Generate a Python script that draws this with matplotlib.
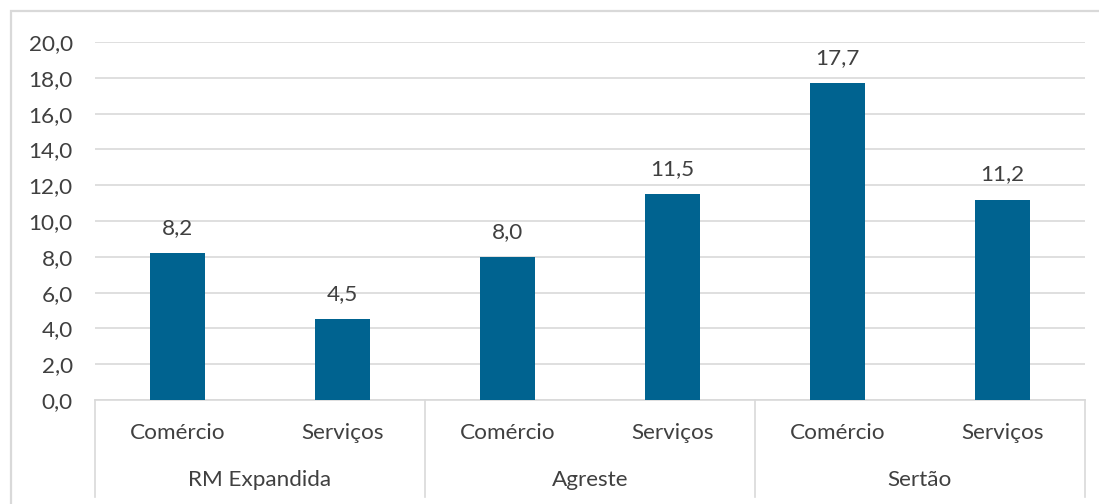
import matplotlib
matplotlib.use('Agg')
import matplotlib.pyplot as plt
from matplotlib.patches import Rectangle
import matplotlib.transforms as mtransforms

# Dados
grupos = ['RM Expandida', 'Agreste', 'Sertão']
setores = ['Comércio', 'Serviços']
valores = [8.2, 4.5, 8.0, 11.5, 17.7, 11.2]

cor_barra = '#006390'
cor_texto = '#404040'
cor_grade = '#d9d9d9'
fs = 16.2

plt.rcParams['font.family'] = ['Lato', 'DejaVu Sans']

fig = plt.figure(figsize=(10.99, 5.04), dpi=100)
ax = fig.add_axes([95 / 1099, 1 - 400 / 504, 990 / 1099, 358 / 504])

# moldura externa (estilo Excel)
fig.patches.append(Rectangle((11 / 1099, -0.1), 1.2, 1.1 - 11 / 504,
                             transform=fig.transFigure, fill=False,
                             edgecolor=cor_grade, linewidth=1.6))

n = len(valores)
x = list(range(n))
ax.bar(x, valores, width=0.33, color=cor_barra, zorder=3)
ax.set_xlim(-0.5, n - 0.5)
ax.set_ylim(0, 20)
ax.set_yticks(range(0, 21, 2))
ax.set_yticklabels([f'{v:.1f}'.replace('.', ',') for v in range(0, 21, 2)])
ax.yaxis.grid(True, color=cor_grade, linewidth=1.2, zorder=0)
ax.tick_params(axis='y', length=0, pad=16, labelsize=fs, labelcolor=cor_texto)

for s in ['top', 'right', 'left']:
    ax.spines[s].set_visible(False)
ax.spines['bottom'].set_color(cor_grade)
ax.spines['bottom'].set_linewidth(1.2)

# rótulos de valor
for xi, v in zip(x, valores):
    ax.annotate(f'{v:.1f}'.replace('.', ','), (xi, v), xytext=(0, 18),
                textcoords='offset points', ha='center', va='center',
                fontsize=fs, color=cor_texto)

# eixo de categorias em dois níveis
ax.set_xticks([])
trans = mtransforms.blended_transform_factory(ax.transData, ax.transAxes)
for i in range(n):
    ax.text(i, -33 / 358, setores[i % 2], transform=trans, ha='center',
            va='center', fontsize=fs, color=cor_texto)
for g, nome in enumerate(grupos):
    ax.text(2 * g + 0.5, -80 / 358, nome, transform=trans, ha='center',
            va='center', fontsize=fs, color=cor_texto)
for b in range(len(grupos) + 1):
    ax.plot([2 * b - 0.5, 2 * b - 0.5], [0, -97 / 358], transform=trans,
            color=cor_grade, linewidth=1.2, clip_on=False)

fig.savefig('out.png', dpi=100)
